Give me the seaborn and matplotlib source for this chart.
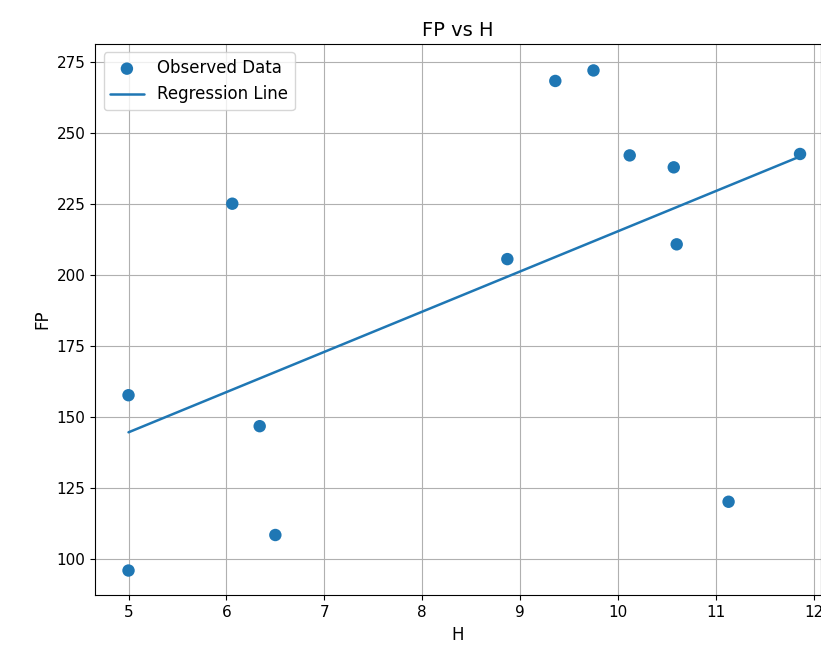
import numpy as np
import pandas as pd
import matplotlib
matplotlib.use("Agg")
import matplotlib.pyplot as plt
import seaborn as sns

# observed points
h_vals = [5.0, 5.0, 6.06, 6.34, 6.5, 8.87, 9.36, 9.75, 10.12, 10.57, 10.6, 11.13, 11.86]
fp_vals = [157.7, 96.0, 225.1, 146.8, 108.5, 205.6, 268.3, 272.0, 242.1, 237.9, 210.8, 120.2, 242.6]

df = pd.DataFrame({"H": h_vals, "FP": fp_vals})

slope, intercept = np.polyfit(df["H"], df["FP"], 1)
df["pred"] = slope * df["H"] + intercept

sns.set_style("ticks", rc={"text.color": "black", "axes.labelcolor": "black",
                           "xtick.color": "black", "ytick.color": "black",
                           "axes.edgecolor": "black"})
plt.rcParams["font.family"] = ["DejaVu Sans"]

fig, ax = plt.subplots(figsize=(8.21, 6.57), dpi=100)
fig.subplots_adjust(left=0.116, right=0.9995, top=0.933, bottom=0.094)

sns.scatterplot(data=df, x="H", y="FP", ax=ax, color="#1f77b4", s=80,
                edgecolor="none", label="Observed Data", zorder=3)
sns.lineplot(x=df["H"].values, y=df["pred"].values, ax=ax, color="#1f77b4",
             linewidth=1.8, label="Regression Line", sort=False, estimator=None)

ax.set_xticks(range(5, 13))
ax.set_yticks(range(100, 276, 25))
ax.set_xlim(4.66, 12.07)
ax.set_ylim(87.3, 281.3)
ax.grid(True, color="#b0b0b0", linewidth=0.8)
ax.set_axisbelow(True)
ax.tick_params(labelsize=11)
ax.set_xlabel("H", fontsize=12)
ax.set_ylabel("FP", fontsize=12)
ax.set_title("FP vs H", fontsize=14)
ax.legend(loc="upper left", fontsize=12)

plt.savefig("out.png", facecolor="white")
